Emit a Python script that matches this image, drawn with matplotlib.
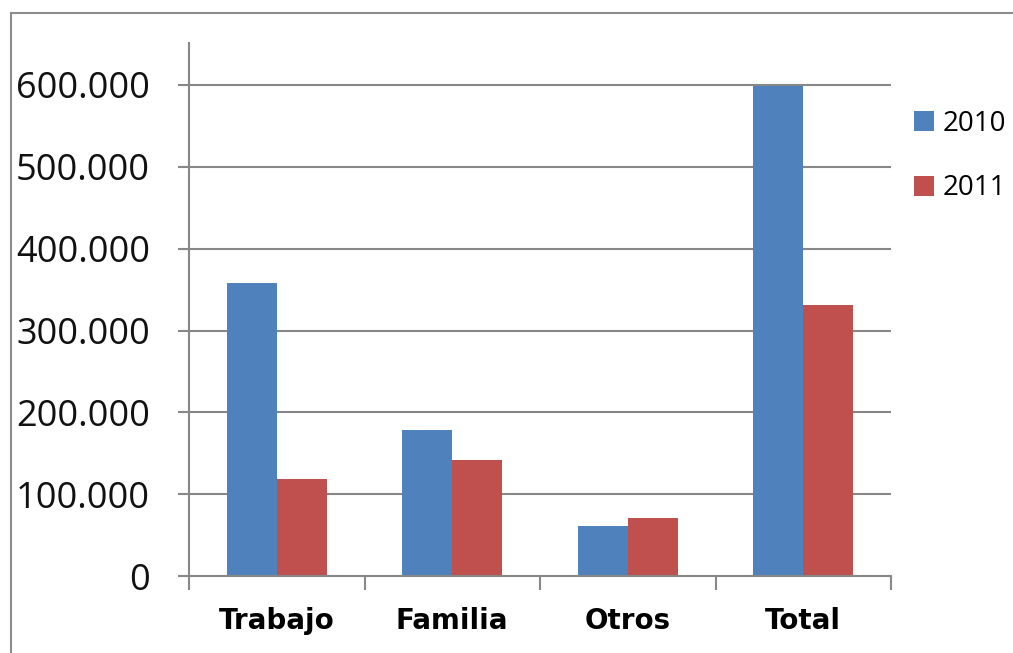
import matplotlib
matplotlib.use("Agg")
import matplotlib.pyplot as plt
from matplotlib.patches import Rectangle
import numpy as np

categories = ["Trabajo", "Familia", "Otros", "Total"]
series_names = ["2010", "2011"]
values_2010 = [358000, 178000, 61000, 599000]
values_2011 = [118500, 142000, 71000, 331000]
ytick_values = [0, 100000, 200000, 300000, 400000, 500000, 600000]
ytick_labels = ["0", "100.000", "200.000", "300.000", "400.000", "500.000", "600.000"]

blue = "#4F81BD"
red = "#C0504D"
grid_gray = "#878787"

fig = plt.figure(figsize=(10.13, 6.53), dpi=100)
ax = fig.add_axes([189/1013, 1-576/653, (891-189)/1013, (576-43)/653])

x = np.arange(len(categories))
w = 0.285
ax.bar(x - w/2, values_2010, width=w, color=blue, label=series_names[0], zorder=3)
ax.bar(x + w/2, values_2011, width=w, color=red, label=series_names[1], zorder=3)

ax.set_xlim(-0.5, len(categories) - 0.5)
ax.set_ylim(0, 600000 * 533 / 491)

# y axis
ax.set_yticks(ytick_values)
ax.set_yticklabels(ytick_labels, fontfamily="Open Sans", fontsize=26, color="#111111")
ax.tick_params(axis="y", direction="out", length=8, width=1.5, color=grid_gray, pad=20)
for v in ytick_values[1:]:
    ax.axhline(v, color=grid_gray, lw=1.5, zorder=1)

# x axis
ax.set_xticks(x)
ax.set_xticklabels(categories, fontfamily="DejaVu Sans", fontweight="bold", fontsize=20)
ax.tick_params(axis="x", which="major", length=0, pad=22)
ax.set_xticks(np.arange(len(categories) + 1) - 0.5, minor=True)
ax.tick_params(axis="x", which="minor", direction="out", length=10, width=1.5, color=grid_gray)

for s in ["top", "right"]:
    ax.spines[s].set_visible(False)
for s in ["left", "bottom"]:
    ax.spines[s].set_color(grid_gray)
    ax.spines[s].set_linewidth(1.5)
ax.spines["bottom"].set_zorder(4)

leg = fig.legend(loc="center left", bbox_to_anchor=(914/1013, 1-156/653),
                 frameon=False, borderpad=0, borderaxespad=0,
                 prop={"family": "Open Sans", "size": 20},
                 handlelength=0.72, handleheight=0.72, handletextpad=0.32,
                 labelspacing=1.32)

# outer border
fig.add_artist(Rectangle((10.5/1013, -0.1), 1.2, 1 - 13/653 + 0.1,
                         transform=fig.transFigure, fill=False,
                         edgecolor="#8c8c8c", linewidth=1.5))

fig.savefig("out.png", dpi=100)
